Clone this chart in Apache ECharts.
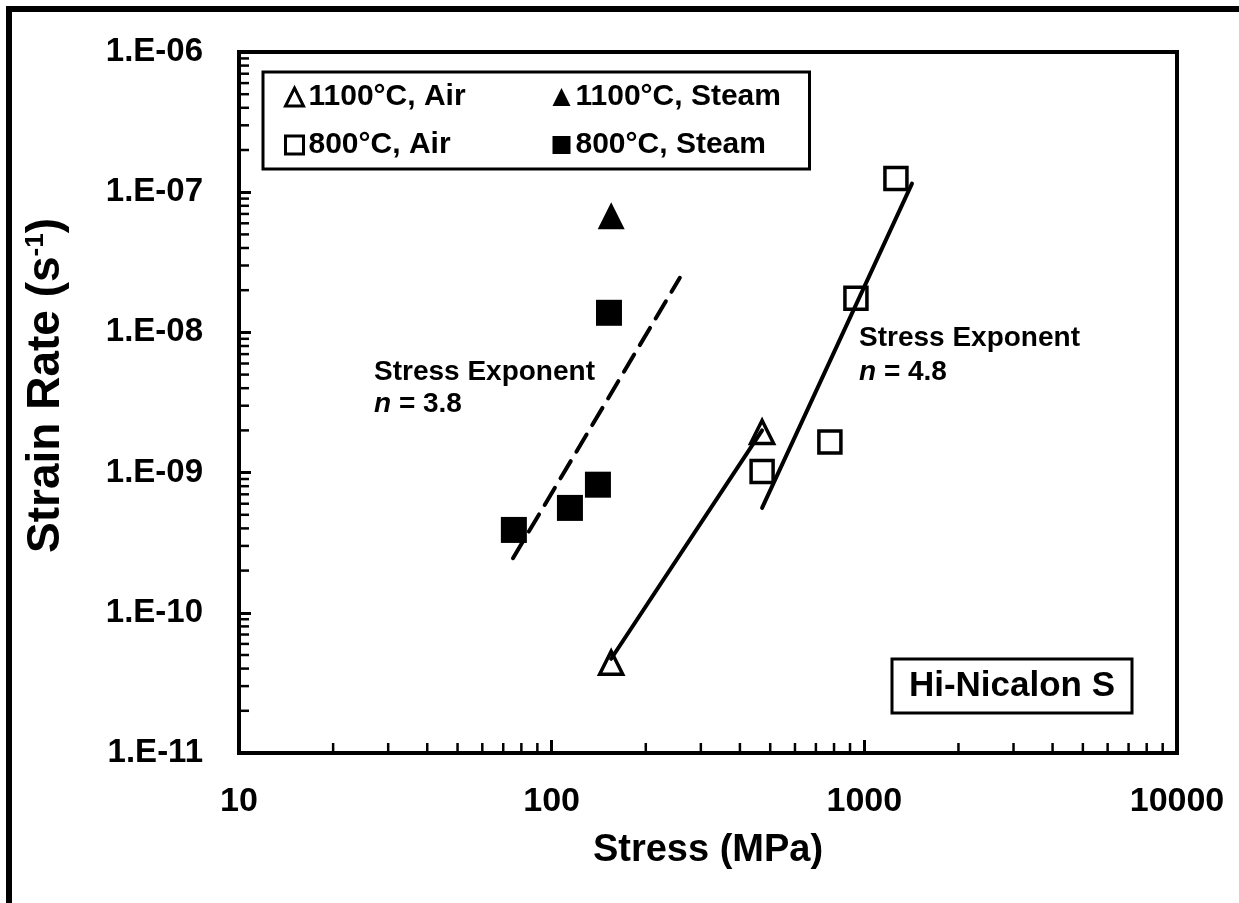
<!DOCTYPE html>
<html>
<head>
<meta charset="utf-8">
<script src="https://cdn.jsdelivr.net/npm/echarts@6/dist/echarts.min.js"></script>
<style>
  html, body { margin: 0; padding: 0; background: #fff; }
  #chart { width: 1239px; height: 903px; }
</style>
</head>
<body>
<div id="chart"></div>
<script>
// data: [stress MPa, strain rate 1/s]
var air1100 = [[155, 4.4e-11], [471, 1.95e-9]];
var steam1100 = [[155, 6.8e-8]];
var air800 = [[1262, 1.25e-7], [940, 1.75e-8], [776, 1.65e-9], [471, 1.02e-9]];
var steam800 = [[75.7, 3.9e-10], [114.4, 5.6e-10], [140.6, 8.2e-10], [152.5, 1.38e-8]];

// fitted power-law lines (end points)
var fitSteam = [[75.2, 2.45e-10], [257, 2.45e-8]];
var fitAir1100 = [[155, 4.7e-11], [471, 2.0e-9]];
var fitAir800 = [[471, 5.6e-10], [1420, 1.15e-7]];

var xRange = [10, 10000];
var yRange = [1e-11, 1e-6];

// minor tick positions, 2..9 within each decade
var xMinor = [];
for (var d = 10; d < 10000; d *= 10) for (var m = 2; m <= 9; m++) xMinor.push([m * d, yRange[0]]);
var yMinor = [];
for (var e = -11; e < -6; e++) for (var k = 2; k <= 9; k++) yMinor.push([xRange[0], k * Math.pow(10, e)]);

var FONT = '"Liberation Sans", Arial, sans-serif';

function tickMarks(dir) {
  return function (params, api) {
    var p = api.coord([api.value(0), api.value(1)]);
    var end = dir === 'x' ? [p[0], p[1] - 10] : [p[0] + 10, p[1]];
    return {
      type: 'line',
      shape: { x1: p[0], y1: p[1], x2: end[0], y2: end[1] },
      style: { stroke: '#000', lineWidth: 2.5 }
    };
  };
}

var openStyle = { color: '#fff', borderColor: '#000', borderWidth: 3.5, opacity: 1 };
var fillStyle = { color: '#000', opacity: 1 };

var chart = echarts.init(document.getElementById('chart'));
var option = {
  animation: false,
  backgroundColor: '#fff',
  grid: {
    left: 239, right: 62, top: 52, bottom: 150,
    show: true, borderColor: '#000', borderWidth: 4, containLabel: false
  },
  legend: {
    data: [
      { name: '1100°C, Air', itemStyle: { color: '#fff', borderColor: '#000', borderWidth: 3 } },
      { name: '1100°C, Steam' },
      { name: '800°C, Air', itemStyle: { color: '#fff', borderColor: '#000', borderWidth: 3 } },
      { name: '800°C, Steam' }
    ],
    left: 263, top: 72,
    width: 530,
    orient: 'horizontal',
    padding: [10, 8, 9, 21],
    itemGap: 18,
    itemWidth: 18, itemHeight: 18,
    borderColor: '#000', borderWidth: 3,
    formatter: function (n) { return '{w|' + n + '}'; },
    textStyle: {
      fontFamily: FONT, fontWeight: 'bold', fontSize: 30, color: '#000', lineHeight: 26,
      rich: { w: { width: 226, height: 26, lineHeight: 26, fontFamily: FONT, fontWeight: 'bold', fontSize: 30 } }
    }
  },
  xAxis: {
    type: 'log', logBase: 10, min: xRange[0], max: xRange[1],
    name: 'Stress (MPa)', nameLocation: 'middle', nameGap: 79,
    nameTextStyle: { fontFamily: FONT, fontWeight: 'bold', fontSize: 38, color: '#000' },
    axisLine: { lineStyle: { color: '#000', width: 4 } },
    axisTick: { inside: true, length: 13, lineStyle: { color: '#000', width: 3 } },
    splitLine: { show: false },
    axisLabel: {
      margin: 32, color: '#000', fontFamily: FONT, fontWeight: 'bold', fontSize: 34,
      formatter: function (v) { return String(Math.round(v)); }
    }
  },
  yAxis: {
    type: 'log', logBase: 10, min: yRange[0], max: yRange[1],
    name: '{a|Strain Rate (s}{s|-1}{a|)}', nameLocation: 'middle', nameGap: 170,
    nameTextStyle: {
      color: '#000',
      padding: [0, 0, 0, 34],
      rich: {
        a: { fontFamily: FONT, fontWeight: 'bold', fontSize: 46, color: '#000' },
        s: { fontFamily: FONT, fontWeight: 'bold', fontSize: 26, color: '#000', padding: [0, 0, 20, 0] }
      }
    },
    axisLine: { lineStyle: { color: '#000', width: 4 } },
    axisTick: { inside: true, length: 12, lineStyle: { color: '#000', width: 3 } },
    splitLine: { show: false },
    axisLabel: {
      margin: 36, color: '#000', fontFamily: FONT, fontWeight: 'bold', fontSize: 33,
      formatter: function (v) {
        var e = Math.round(Math.log10(v));
        var s = String(Math.abs(e));
        if (s.length < 2) s = '0' + s;
        return '1.E' + (e < 0 ? '-' : '+') + s;
      }
    }
  },
  series: [
    {
      type: 'custom', data: xMinor, renderItem: tickMarks('x'), silent: true, clip: false, z: 5
    },
    {
      type: 'custom', data: yMinor, renderItem: tickMarks('y'), silent: true, clip: false, z: 5
    },
    {
      type: 'line', data: fitSteam, symbol: 'none', silent: true,
      lineStyle: { color: '#000', width: 4, type: [20, 11], cap: 'round' }, z: 3
    },
    {
      type: 'line', data: fitAir1100, symbol: 'none', silent: true,
      lineStyle: { color: '#000', width: 4, cap: 'round' }, z: 3
    },
    {
      type: 'line', data: fitAir800, symbol: 'none', silent: true,
      lineStyle: { color: '#000', width: 4, cap: 'round' }, z: 3
    },
    {
      name: '1100°C, Air', type: 'scatter', data: air1100, symbol: 'triangle', symbolSize: 23,
      itemStyle: openStyle, z: 2
    },
    {
      name: '1100°C, Steam', type: 'scatter', data: steam1100, symbol: 'triangle', symbolSize: 27,
      itemStyle: fillStyle, z: 2
    },
    {
      name: '800°C, Air', type: 'scatter', data: air800, symbol: 'rect', symbolSize: 22,
      itemStyle: openStyle, z: 2
    },
    {
      name: '800°C, Steam', type: 'scatter', data: steam800, symbol: 'rect', symbolSize: 26,
      itemStyle: fillStyle, z: 2
    }
  ],
  graphic: [
    // outer frame (top and left edges)
    { type: 'line', shape: { x1: 6, y1: 9, x2: 1239, y2: 9 }, style: { stroke: '#000', lineWidth: 6 } },
    { type: 'line', shape: { x1: 9, y1: 6, x2: 9, y2: 903 }, style: { stroke: '#000', lineWidth: 6 } },
    {
      type: 'text', left: 374, top: 356,
      style: {
        text: 'Stress Exponent\n{i|n}{t| = 3.8}',
        fill: '#000', font: 'bold 28px ' + FONT, lineHeight: 32,
        rich: {
          i: { fontFamily: FONT, fontWeight: 'bold', fontStyle: 'italic', fontSize: 28, fill: '#000' },
          t: { fontFamily: FONT, fontWeight: 'bold', fontSize: 28, fill: '#000' }
        }
      }
    },
    {
      type: 'text', left: 859, top: 321,
      style: {
        text: 'Stress Exponent\n{i|n}{t| = 4.8}',
        fill: '#000', font: 'bold 28px ' + FONT, lineHeight: 34,
        rich: {
          i: { fontFamily: FONT, fontWeight: 'bold', fontStyle: 'italic', fontSize: 28, fill: '#000' },
          t: { fontFamily: FONT, fontWeight: 'bold', fontSize: 28, fill: '#000' }
        }
      }
    },
    {
      type: 'rect', shape: { x: 892, y: 659, width: 240, height: 54 },
      style: { fill: '#fff', stroke: '#000', lineWidth: 3 }, z: 10
    },
    {
      type: 'text', x: 1012, y: 686, z: 11,
      style: {
        text: 'Hi-Nicalon S', fill: '#000', font: 'bold 35px ' + FONT,
        align: 'center', verticalAlign: 'middle'
      }
    }
  ]
};
chart.setOption(option);
</script>
</body>
</html>
